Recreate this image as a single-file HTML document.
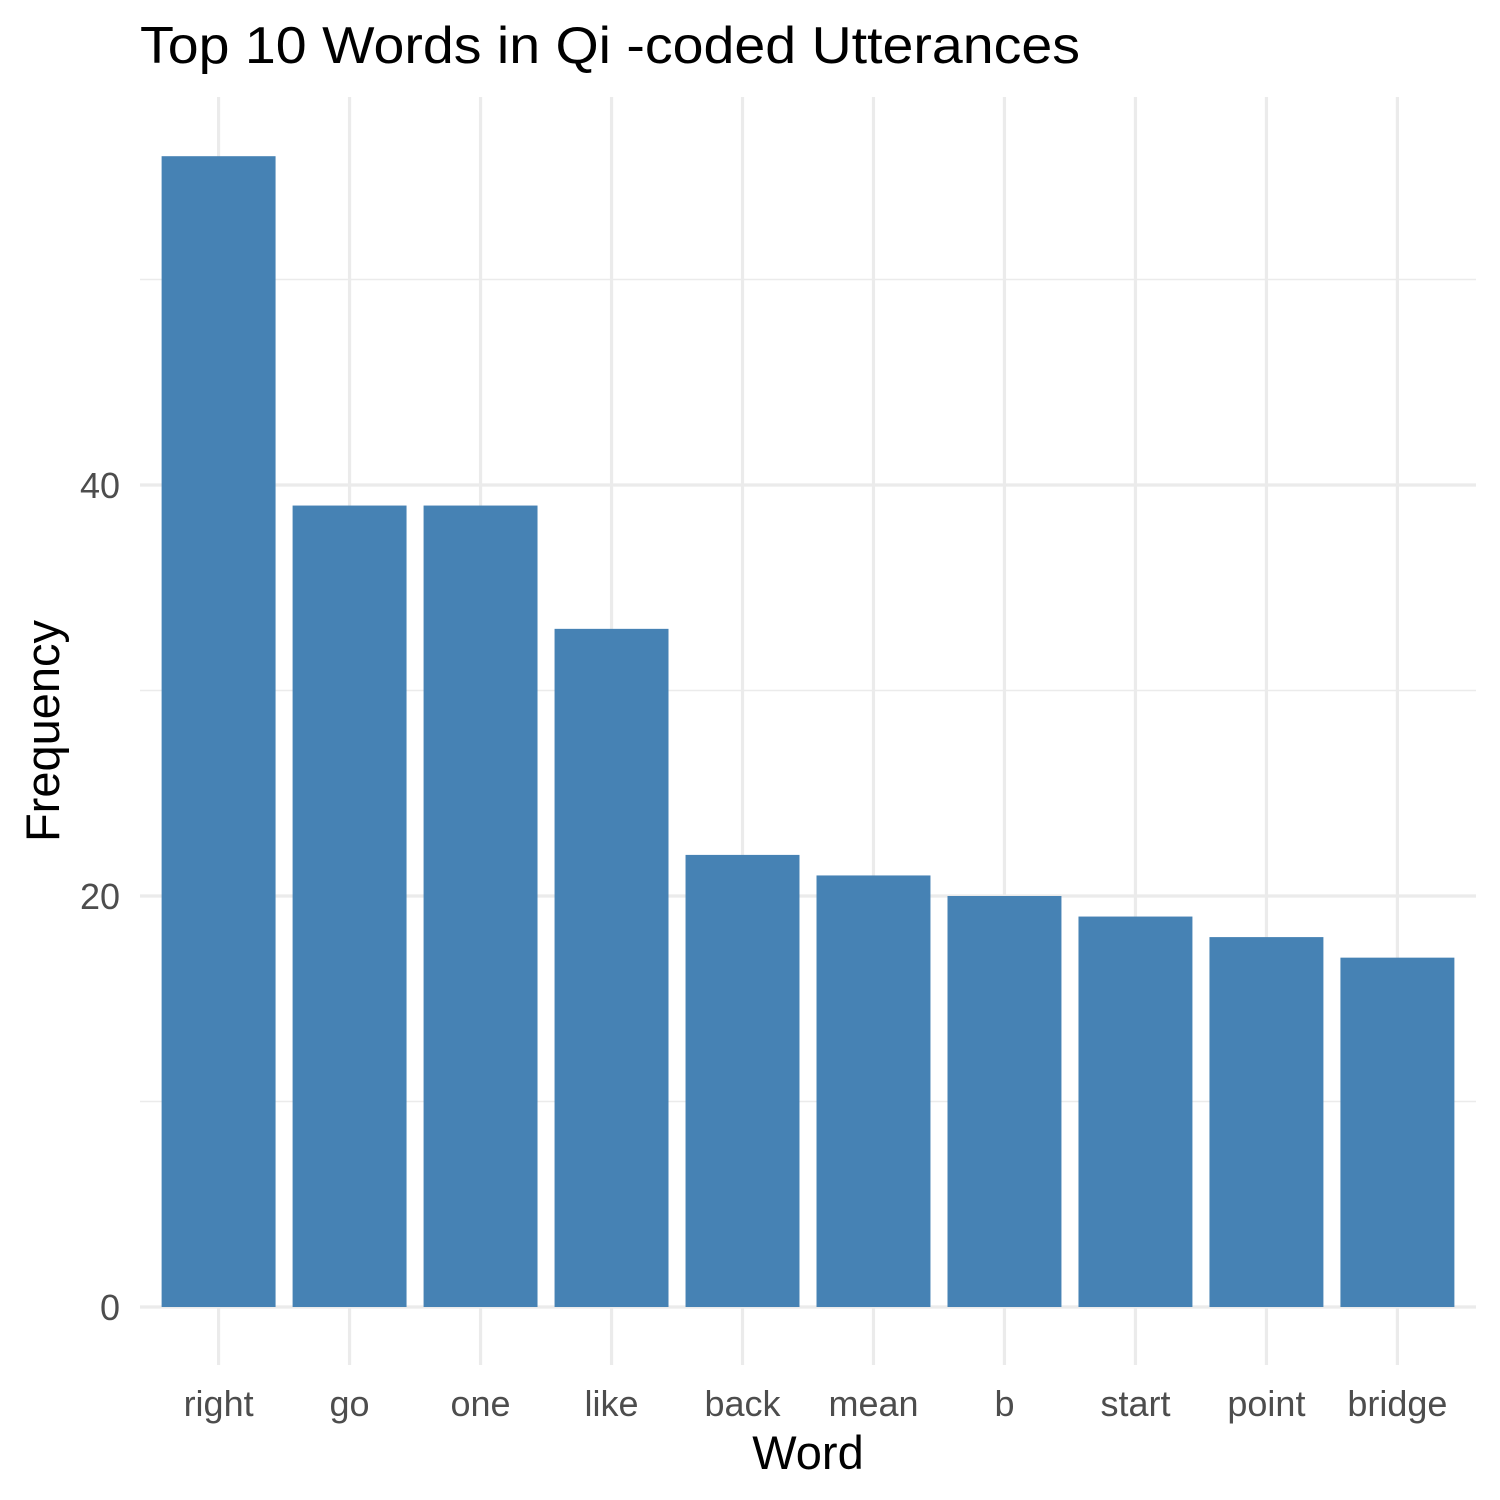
<!DOCTYPE html>
<html><head><meta charset="utf-8">
<style>
html,body{margin:0;padding:0;background:#fff;}
svg{display:block;font-family:"Liberation Sans",Arial,sans-serif;}
</style></head>
<body>
<svg id="chart" width="1500" height="1500" viewBox="0 0 1500 1500">
<text x="140" y="63" font-size="52" textLength="940" lengthAdjust="spacingAndGlyphs" fill="#000">Top 10 Words in Qi -coded Utterances</text>
<g id="grid"></g>
<g id="bars"></g>
<g id="xt"></g>
<g id="yt"></g>
<text x="808" y="1469" font-size="47" text-anchor="middle" fill="#000">Word</text>
<text transform="translate(59,731) rotate(-90)" font-size="47" text-anchor="middle" fill="#000">Frequency</text>
</svg>
<script>
const categories = ["right","go","one","like","back","mean","b","start","point","bridge"];
const values = [56,39,39,33,22,21,20,19,18,17];
const majorTicks = [0,20,40];
const minorTicks = [10,30,50];
const tickLabels = ["0","20","40"];

const NS = "http://www.w3.org/2000/svg";
const panelL = 140, panelR = 1476, panelT = 97, panelB = 1365;
const y0 = 1307, pxPerUnit = 20.55;
const yScale = v => y0 - v * pxPerUnit;
const step = (panelR - panelL) / (categories.length - 1 + 1.2);
const xScale = i => panelL + step * (0.6 + i);
const barW = step * 0.87;

function mk(tag, attrs, parent){
  const el = document.createElementNS(NS, tag);
  for (const k in attrs) el.setAttribute(k, attrs[k]);
  parent.appendChild(el);
  return el;
}
const grid = document.getElementById("grid");
minorTicks.forEach(t => {
  const l = mk("line", {x1:panelL, x2:panelR, y1:yScale(t), y2:yScale(t), stroke:"#ebebeb", "stroke-width":1.6}, grid);
  
  
});
majorTicks.forEach(t => {
  const l = mk("line", {x1:panelL, x2:panelR, y1:yScale(t), y2:yScale(t), stroke:"#ebebeb", "stroke-width":3.2}, grid);
  
  
});
categories.forEach((c, i) => {
  const l = mk("line", {x1:xScale(i), x2:xScale(i), y1:panelT, y2:panelB, stroke:"#ebebeb", "stroke-width":3.2}, grid);
  
  
});
const bars = document.getElementById("bars");
values.forEach((v, i) => {
  const r = mk("rect", {x:xScale(i) - barW/2, y:yScale(v), width:barW, height:yScale(0) - yScale(v), fill:"#4682b4"}, bars);
  
  
});
const xt = document.getElementById("xt");
categories.forEach((c, i) => {
  const t = mk("text", {x:xScale(i), y:1416, "font-size":36, "text-anchor":"middle", fill:"#4d4d4d"}, xt);
  t.textContent = c;
  
  
});
const yt = document.getElementById("yt");
majorTicks.forEach((v, i) => {
  const t = mk("text", {x:120, y:yScale(v) + 13, "font-size":36, "text-anchor":"end", fill:"#4d4d4d"}, yt);
  t.textContent = tickLabels[i];
  
  
});
</script>
</body></html>
